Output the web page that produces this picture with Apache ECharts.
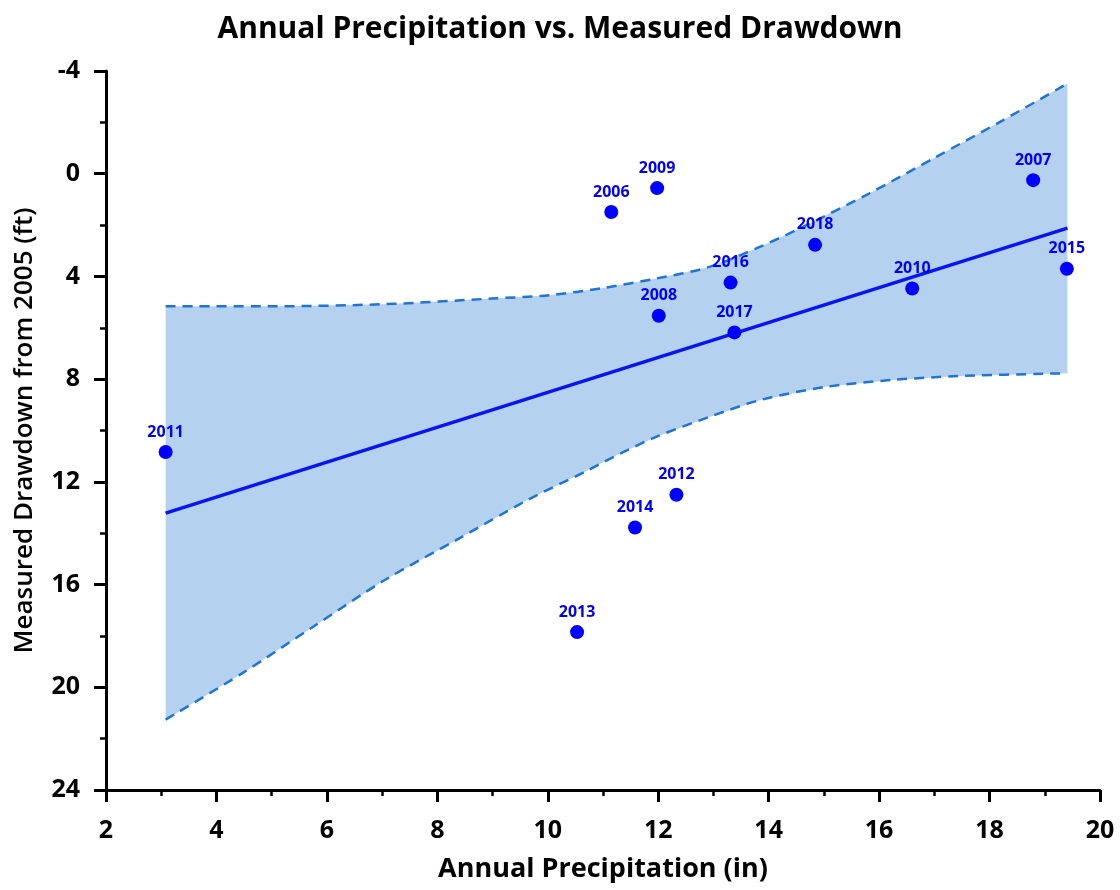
<!DOCTYPE html>
<html>
<head>
<meta charset="utf-8">
<title>Annual Precipitation vs. Measured Drawdown</title>
<script src="https://cdn.jsdelivr.net/npm/echarts@6/dist/echarts.min.js"></script>
<style>
  html, body { margin: 0; padding: 0; background: #fff; }
  #chart { width: 1120px; height: 890px; }
</style>
</head>
<body>
<div id="chart"></div>
<script>
// measured points, one per year
const years = ["2006", "2007", "2008", "2009", "2010", "2011", "2012", "2013", "2014", "2015", "2016", "2017", "2018"];
const precip = [11.15, 18.79, 12.01, 11.98, 16.6, 3.08, 12.33, 10.53, 11.58, 19.4, 13.31, 13.38, 14.84];
const drawdown = [1.49, 0.25, 5.53, 0.56, 4.47, 10.84, 12.5, 17.85, 13.78, 3.7, 4.24, 6.18, 2.77];

// fitted line (end points)
const fitX = [3.08, 19.41];
const fitY = [13.22, 2.12];

// confidence band edges
const upperX = [3.08, 5.1, 7.05, 9.0, 10.03, 11.0, 11.97, 12.94, 13.87, 14.62, 15.82, 17.03, 18.24, 19.41];
const upperY = [5.16, 5.16, 5.08, 4.86, 4.73, 4.45, 4.08, 3.62, 2.82, 2.07, 0.77, -0.65, -2.08, -3.51];
const lowerX = [3.08, 4.47, 5.76, 7.05, 8.35, 9.64, 10.68, 11.32, 11.97, 12.94, 13.87, 15.04, 16.25, 17.45, 19.41];
const lowerY = [21.26, 19.45, 17.63, 15.82, 14.26, 12.7, 11.6, 10.89, 10.24, 9.46, 8.8, 8.3, 8.03, 7.88, 7.77];

const FONT = "Open Sans";
const pair = (xs, ys) => xs.map((x, i) => [x, ys[i]]);

const chart = echarts.init(document.getElementById("chart"));

const axisCommon = {
  axisLine: { show: true, onZero: false, lineStyle: { color: "#000", width: 3 } },
  axisTick: { show: true, inside: false, length: 12, lineStyle: { color: "#000", width: 3 } },
  minorTick: { show: true, splitNumber: 2, length: 6, lineStyle: { color: "#000", width: 2.5 } },
  splitLine: { show: false }
};

chart.setOption({
  animation: false,
  title: {
    text: "Annual Precipitation vs. Measured Drawdown",
    left: "center",
    top: 9,
    textStyle: { fontFamily: FONT, fontSize: 30, fontWeight: "bold", color: "#000" }
  },
  grid: { left: 106, right: 20, top: 71, bottom: 100 },
  xAxis: Object.assign({}, axisCommon, {
    type: "value",
    min: 2,
    max: 20,
    interval: 2,
    name: "Annual Precipitation (in)",
    nameLocation: "middle",
    nameGap: 66,
    nameTextStyle: { color: "#000", fontFamily: FONT, fontSize: 27, fontWeight: "bold" },
    axisLabel: { margin: 28, color: "#000", fontFamily: FONT, fontSize: 25, fontWeight: "bold" }
  }),
  yAxis: Object.assign({}, axisCommon, {
    type: "value",
    inverse: true,
    min: -4,
    max: 24,
    interval: 4,
    name: "Measured Drawdown from 2005 (ft)",
    nameLocation: "middle",
    nameGap: 68,
    nameTextStyle: { color: "#000", fontFamily: FONT, fontSize: 26, fontWeight: 600 },
    axisLabel: { margin: 26, color: "#000", fontFamily: FONT, fontSize: 25, fontWeight: "bold" }
  }),
  series: [
    {
      // shaded band between the two dashed curves
      type: "custom",
      silent: true,
      z: 1,
      data: [[upperX[0], upperY[0]]],
      renderItem: function (params, api) {
        const pts = [];
        for (let i = 0; i < upperX.length; i++) pts.push(api.coord([upperX[i], upperY[i]]));
        for (let i = lowerX.length - 1; i >= 0; i--) pts.push(api.coord([lowerX[i], lowerY[i]]));
        return { type: "polygon", shape: { points: pts }, style: { fill: "#b4d2f0" } };
      }
    },
    {
      type: "line",
      z: 2,
      data: pair(upperX, upperY),
      smooth: 0.3,
      showSymbol: false,
      lineStyle: { color: "#1f74d4", width: 2.5, type: [10, 7] }
    },
    {
      type: "line",
      z: 2,
      data: pair(lowerX, lowerY),
      smooth: 0.3,
      showSymbol: false,
      lineStyle: { color: "#1f74d4", width: 2.5, type: [10, 7] }
    },
    {
      type: "line",
      z: 3,
      data: pair(fitX, fitY),
      showSymbol: false,
      lineStyle: { color: "#0a14f0", width: 3.5 }
    },
    {
      type: "scatter",
      z: 4,
      symbolSize: 14,
      itemStyle: { color: "#0000ff", opacity: 1 },
      data: precip.map((x, i) => [x, drawdown[i], years[i]]),
      label: {
        show: true,
        position: "top",
        distance: 5,
        formatter: p => p.value[2],
        color: "#0000ff",
        fontFamily: FONT,
        fontSize: 16,
        fontWeight: "bold"
      }
    }
  ]
});
</script>
</body>
</html>
